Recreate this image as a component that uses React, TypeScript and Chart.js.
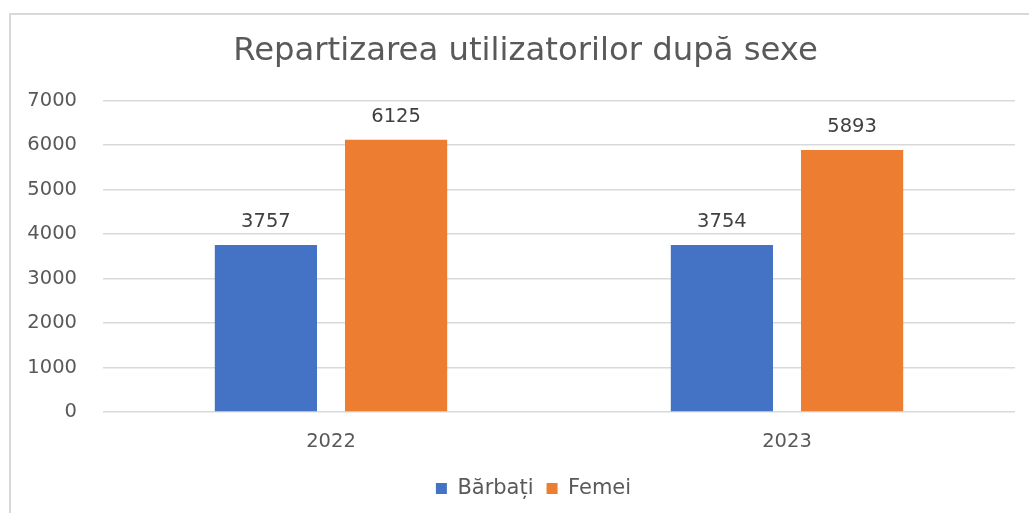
import React, { useEffect, useRef } from "react";
import { Chart, registerables } from "chart.js";

Chart.register(...registerables);

const categories = ["2022", "2023"];
const barbati = [3757, 3754];
const femei = [6125, 5893];
const seriesNames = ["Bărbați", "Femei"];
const yTicks = [0, 1000, 2000, 3000, 4000, 5000, 6000, 7000];
const titleText = "Repartizarea utilizatorilor după sexe";

const FONT = "'DejaVu Sans', 'Open Sans', sans-serif";

const framePlugin = {
  id: "frame",
  beforeDraw(chart: any) {
    const ctx = chart.ctx;
    ctx.save();
    ctx.fillStyle = "#ffffff";
    ctx.fillRect(0, 0, chart.width, chart.height);
    ctx.strokeStyle = "#d9d9d9";
    ctx.lineWidth = 2;
    ctx.beginPath();
    ctx.moveTo(10, chart.height);
    ctx.lineTo(10, 14);
    ctx.lineTo(chart.width, 14);
    ctx.stroke();
    ctx.restore();
  },
};

// shift title and legend boxes to the right, as in the reference
const offsetPlugin = {
  id: "offsetBoxes",
  afterLayout(chart: any) {
    if (chart.titleBlock) {
      chart.titleBlock.left += 13;
      chart.titleBlock.right += 13;
    }
    if (chart.legend) {
      chart.legend.left += 21;
      chart.legend.right += 21;
    }
  },
};

const labelPlugin = {
  id: "barLabels",
  afterDatasetsDraw(chart: any) {
    const ctx = chart.ctx;
    ctx.save();
    ctx.font = `19.5px ${FONT}`;
    ctx.fillStyle = "#404040";
    ctx.textAlign = "center";
    ctx.textBaseline = "middle";
    chart.data.datasets.forEach((ds: any, di: number) => {
      const meta = chart.getDatasetMeta(di);
      meta.data.forEach((bar: any, i: number) => {
        ctx.fillText(String(ds.data[i]), bar.x, bar.y - 23);
      });
    });
    ctx.restore();
  },
};

export default function App() {
  const ref = useRef<HTMLCanvasElement | null>(null);
  useEffect(() => {
    if (!ref.current) return;
    const chart = new Chart(ref.current, {
      type: "bar",
      data: {
        labels: categories,
        datasets: [
          {
            label: seriesNames[0],
            data: barbati,
            backgroundColor: "#4472C4",
            categoryPercentage: 0.571,
            barPercentage: 0.785,
          },
          {
            label: seriesNames[1],
            data: femei,
            backgroundColor: "#ED7D31",
            categoryPercentage: 0.571,
            barPercentage: 0.785,
          },
        ],
      },
      options: {
        animation: false,
        responsive: false,
        maintainAspectRatio: false,
        layout: { padding: { top: 32, left: 10, right: 14, bottom: 4 } },
        plugins: {
          title: {
            display: true,
            text: titleText,
            color: "#595959",
            font: { family: FONT, size: 32.3, weight: "normal" },
            padding: { top: 0, bottom: 30 },
          },
          legend: {
            position: "bottom",
            labels: {
              boxWidth: 11,
              boxHeight: 11,
              padding: 13,
              color: "#595959",
              font: { family: FONT, size: 21 },
            },
          },
          tooltip: { enabled: false },
        },
        scales: {
          x: {
            grid: { display: false, drawTicks: false },
            border: { display: false },
            ticks: { color: "#595959", font: { family: FONT, size: 19.5 }, padding: 18 },
            afterFit: (s: any) => {
              s.height = 53;
            },
          },
          y: {
            min: 0,
            max: 7000,
            afterBuildTicks: (s: any) => {
              s.ticks = yTicks.map((v) => ({ value: v }));
            },
            grid: { color: "#d9d9d9", lineWidth: 1.5, drawTicks: false },
            border: { display: false },
            ticks: {
              color: "#595959",
              font: { family: FONT, size: 19.5 },
              padding: 26,
              callback: (v: any) => String(v),
            },
            afterFit: (s: any) => {
              s.width = 93;
            },
          },
        },
      } as any,
      plugins: [framePlugin, offsetPlugin, labelPlugin],
    });
    return () => chart.destroy();
  }, []);
  return (
    <div style={{ position: "absolute", left: 0, top: 0, width: 1029, height: 513 }}>
      <canvas ref={ref} width={1029} height={513} style={{ display: "block" }} />
    </div>
  );
}
